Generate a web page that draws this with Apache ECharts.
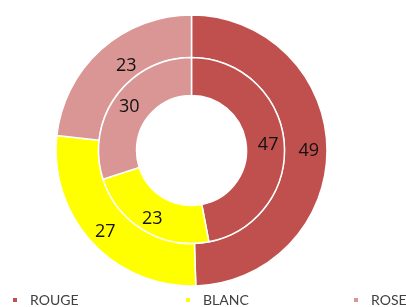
<!DOCTYPE html>
<html>
<head>
<meta charset="utf-8">
<style>
  html, body { margin: 0; padding: 0; background: #fff; }
  #chart { width: 406px; height: 307px; }
</style>
<script src="https://cdn.jsdelivr.net/npm/echarts@6/dist/echarts.min.js"></script>
</head>
<body>
<div id="chart"></div>
<script>
// les données
var categories = ['ROUGE', 'BLANC', 'ROSE'];
var couleurs = ['#C0504D', '#FFFF00', '#D99694'];
var anneauExterieur = [49, 27, 23];
var anneauInterieur = [47, 23, 30];

var buildData = function (values) {
    return categories.map(function (name, i) {
        return { name: name, value: values[i], itemStyle: { color: couleurs[i] } };
    });
};

var labelStyle = {
    show: true,
    position: 'inside',
    formatter: '{c}',
    fontFamily: 'Open Sans',
    fontSize: 18,
    color: '#111',
    offset: [0, 2]
};

var legendItem = function (name, left) {
    return {
        data: [name],
        left: left,
        top: 293,
        padding: 0,
        icon: 'rect',
        itemWidth: 6,
        itemHeight: 6,
        textStyle: {
            fontFamily: 'Lato',
            fontSize: 14,
            color: '#404040',
            padding: [0, 0, 0, 7]
        }
    };
};

var dataExterieur = buildData(anneauExterieur);
// l'étiquette du rosé extérieur est plus près du centre dans l'original
dataExterieur[2].label = { offset: [13, 3] };

var myChart = echarts.init(document.getElementById('chart'));
var option = {
    animation: false,
    legend: [
        legendItem('ROUGE', 11),
        legendItem('BLANC', 184),
        legendItem('ROSE', 352)
    ],
    series: [
        {
            name: 'exterieur',
            type: 'pie',
            center: [191.5, 150.5],
            radius: [93, 135.5],
            startAngle: 90,
            clockwise: true,
            label: labelStyle,
            labelLine: { show: false },
            itemStyle: { borderColor: '#fff', borderWidth: 1.5 },
            emphasis: { disabled: true },
            data: dataExterieur
        },
        {
            name: 'interieur',
            type: 'pie',
            center: [191.5, 150.5],
            radius: [55, 93],
            startAngle: 90,
            clockwise: true,
            label: labelStyle,
            labelLine: { show: false },
            itemStyle: { borderColor: '#fff', borderWidth: 1.5 },
            emphasis: { disabled: true },
            data: buildData(anneauInterieur)
        }
    ]
};
myChart.setOption(option);
</script>
</body>
</html>
